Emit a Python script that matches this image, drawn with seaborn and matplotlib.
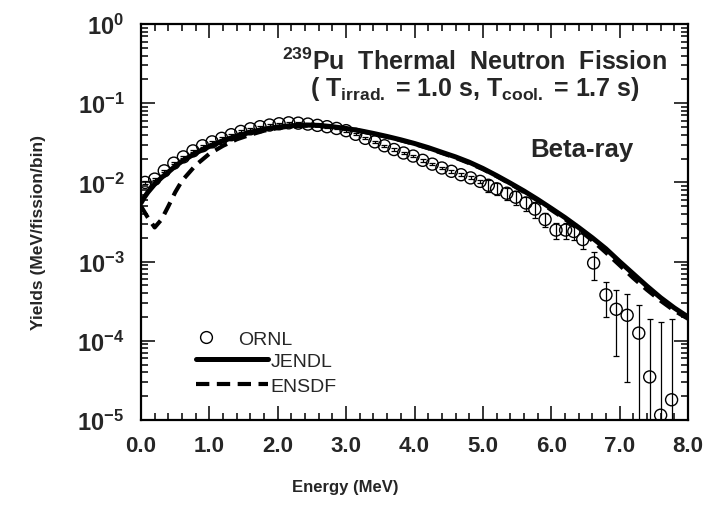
import matplotlib
matplotlib.use("Agg")
import matplotlib.pyplot as plt
import seaborn as sns
import pandas as pd
from matplotlib.ticker import FixedLocator, FixedFormatter, LogLocator, NullFormatter, MultipleLocator
from matplotlib.lines import Line2D

# ---------------- data ----------------
jendl_E = [0.00, 0.05, 0.10, 0.20, 0.30, 0.40, 0.50, 0.60, 0.80, 1.00, 1.20, 1.40, 1.60, 1.80,
           2.00, 2.20, 2.40, 2.60, 2.80, 3.00, 3.20, 3.40, 3.60, 3.80, 4.00, 4.20, 4.40, 4.60,
           4.80, 5.00, 5.20, 5.40, 5.60, 5.80, 6.00, 6.20, 6.40, 6.60, 6.80, 7.00, 7.20, 7.40,
           7.60, 7.80, 8.00]
jendl_Y = [5.5e-3, 6.5e-3, 7.5e-3, 9.5e-3, 1.15e-2, 1.35e-2, 1.6e-2, 1.85e-2, 2.35e-2, 2.85e-2,
           3.35e-2, 3.85e-2, 4.3e-2, 4.7e-2, 5.0e-2, 5.2e-2, 5.3e-2, 5.25e-2, 5.05e-2, 4.8e-2,
           4.5e-2, 4.15e-2, 3.8e-2, 3.45e-2, 3.1e-2, 2.75e-2, 2.4e-2, 2.1e-2, 1.8e-2, 1.5e-2,
           1.22e-2, 9.8e-3, 7.8e-3, 6.1e-3, 4.7e-3, 3.6e-3, 2.7e-3, 2.0e-3, 1.45e-3, 1.0e-3,
           7.0e-4, 4.9e-4, 3.5e-4, 2.6e-4, 2.0e-4]

ensdf_E = [0.00, 0.10, 0.20, 0.30, 0.40, 0.50, 0.60, 0.80, 1.00, 1.20, 1.40, 1.60, 1.80, 2.00,
           2.20, 2.40, 2.60, 2.80, 3.00, 3.20, 3.40, 3.60, 3.80, 4.00, 4.20, 4.40, 4.60, 4.80,
           5.00, 5.20, 5.40, 5.60, 5.80, 6.00, 6.20, 6.40, 6.60, 6.80, 7.00, 7.20, 7.40, 7.60,
           7.80, 8.00]
ensdf_Y = [5.0e-3, 3.6e-3, 2.7e-3, 3.4e-3, 5.0e-3, 7.5e-3, 1.05e-2, 1.65e-2, 2.3e-2, 2.9e-2,
           3.5e-2, 4.0e-2, 4.5e-2, 4.85e-2, 5.1e-2, 5.2e-2, 5.2e-2, 5.0e-2, 4.75e-2, 4.45e-2,
           4.1e-2, 3.75e-2, 3.4e-2, 3.05e-2, 2.7e-2, 2.35e-2, 2.05e-2, 1.75e-2, 1.47e-2, 1.2e-2,
           9.6e-3, 7.6e-3, 5.9e-3, 4.5e-3, 3.45e-3, 2.55e-3, 1.85e-3, 1.3e-3, 9.0e-4, 6.2e-4,
           4.4e-4, 3.2e-4, 2.4e-4, 1.9e-4]

ornl_E = [0.06, 0.20, 0.34, 0.48, 0.62, 0.76, 0.90, 1.04, 1.18, 1.32, 1.46, 1.60, 1.74, 1.88,
          2.02, 2.16, 2.30, 2.44, 2.58, 2.72, 2.86, 3.00, 3.14, 3.28, 3.42, 3.56, 3.70, 3.84,
          3.98, 4.12, 4.26, 4.40, 4.54, 4.68, 4.82, 4.96, 5.08, 5.20, 5.35, 5.48, 5.63, 5.76,
          5.91, 6.07, 6.21, 6.33, 6.46, 6.62, 6.80, 6.95, 7.11, 7.28, 7.44, 7.60, 7.76]
ornl_Y = [1.0e-2, 1.1e-2, 1.4e-2, 1.75e-2, 2.1e-2, 2.5e-2, 2.9e-2, 3.25e-2, 3.6e-2, 4.0e-2,
          4.4e-2, 4.75e-2, 5.05e-2, 5.3e-2, 5.5e-2, 5.65e-2, 5.6e-2, 5.45e-2, 5.25e-2, 5.05e-2,
          4.8e-2, 4.5e-2, 4.05e-2, 3.6e-2, 3.25e-2, 2.9e-2, 2.6e-2, 2.35e-2, 2.15e-2, 1.9e-2,
          1.7e-2, 1.52e-2, 1.38e-2, 1.25e-2, 1.14e-2, 1.03e-2, 9.2e-3, 8.3e-3, 7.3e-3, 6.5e-3,
          5.5e-3, 4.6e-3, 3.4e-3, 2.5e-3, 2.5e-3, 2.4e-3, 1.9e-3, 9.6e-4, 3.8e-4, 2.5e-4,
          2.1e-4, 1.25e-4, 3.5e-5, 1.15e-5, 1.8e-5]
ornl_err = [4e-4, 4e-4, 5e-4, 6e-4, 7e-4, 8e-4, 9e-4, 1.0e-3, 1.1e-3, 1.2e-3, 1.3e-3, 1.4e-3,
            1.5e-3, 1.6e-3, 1.6e-3, 1.7e-3, 1.7e-3, 1.6e-3, 1.6e-3, 1.5e-3, 1.4e-3, 1.4e-3,
            1.2e-3, 1.1e-3, 1.0e-3, 9e-4, 8e-4, 8e-4, 7e-4, 7e-4, 6e-4, 6e-4, 6e-4, 5e-4,
            5e-4, 5e-4, 1.6e-3, 1.4e-3, 1.3e-3, 1.3e-3, 1.1e-3, 1.0e-3, 7e-4, 5.5e-4, 5.5e-4,
            5.5e-4, 4.5e-4, 3.7e-4, 1.8e-4, 1.85e-4, 1.8e-4, 1.55e-4, 1.55e-4, 1.6e-4, 1.7e-4]

x_ticks = [0, 1, 2, 3, 4, 5, 6, 7, 8]
x_tick_labels = ["0.0", "1.0", "2.0", "3.0", "4.0", "5.0", "6.0", "7.0", "8.0"]
y_ticks = [1e-5, 1e-4, 1e-3, 1e-2, 1e-1, 1e0]
y_tick_labels = [r"$10^{-5}$", r"$10^{-4}$", r"$10^{-3}$", r"$10^{-2}$", r"$10^{-1}$", r"$10^{0}$"]

# ---------------- style ----------------
sns.set_style("ticks")
plt.rcParams["font.family"] = ["Liberation Sans", "DejaVu Sans"]
plt.rcParams["mathtext.fontset"] = "custom"
plt.rcParams["mathtext.rm"] = "Liberation Sans:bold"
plt.rcParams["mathtext.bf"] = "Liberation Sans:bold"
plt.rcParams["mathtext.it"] = "Liberation Sans:bold"
plt.rcParams["mathtext.default"] = "rm"

fig = plt.figure(figsize=(7.09, 5.06), dpi=100)
ax = fig.add_axes([141 / 709, 1 - 421 / 506, 547 / 709, 396 / 506])

df_j = pd.DataFrame({"E": jendl_E, "Y": jendl_Y})
df_e = pd.DataFrame({"E": ensdf_E, "Y": ensdf_Y})
df_o = pd.DataFrame({"E": ornl_E, "Y": ornl_Y, "err": ornl_err})

sns.lineplot(data=df_j, x="E", y="Y", ax=ax, color="black", linewidth=3.6, sort=False,
             estimator=None, zorder=3)
sns.lineplot(data=df_e, x="E", y="Y", ax=ax, color="black", linewidth=3.0, sort=False,
             estimator=None, linestyle=(0, (3.2, 1.8)), zorder=3)
ax.errorbar(df_o["E"], df_o["Y"], yerr=df_o["err"], fmt="none", ecolor="black",
            elinewidth=0.9, capsize=2.5, capthick=0.9, zorder=2)
sns.scatterplot(data=df_o, x="E", y="Y", ax=ax, marker="o", s=75, facecolor="none",
                edgecolor="black", linewidth=1.0, zorder=4)

ax.set_yscale("log")
ax.set_xlim(0, 8)
ax.set_ylim(1e-5, 1e0)

ax.xaxis.set_major_locator(FixedLocator(x_ticks))
ax.xaxis.set_major_formatter(FixedFormatter(x_tick_labels))
ax.xaxis.set_minor_locator(MultipleLocator(0.2))
ax.yaxis.set_major_locator(FixedLocator(y_ticks))
ax.yaxis.set_major_formatter(FixedFormatter(y_tick_labels))
ax.yaxis.set_minor_locator(LogLocator(base=10, subs=range(2, 10), numticks=20))
ax.yaxis.set_minor_formatter(NullFormatter())

ax.tick_params(which="both", direction="in", top=True, right=True, width=1.1, color="black")
ax.tick_params(which="major", length=10)
ax.tick_params(which="minor", length=5)
ax.tick_params(axis="x", which="major", labelsize=16, pad=11)
ax.tick_params(axis="y", which="major", labelsize=17, pad=12)
for lab in ax.get_xticklabels():
    lab.set_fontweight("bold")
for sp in ax.spines.values():
    sp.set_linewidth(1.6)
    sp.set_color("black")

ax.set_xlabel("Energy (MeV)", fontsize=12, fontweight="bold")
ax.set_ylabel("Yields (MeV/fission/bin)", fontsize=12.5, fontweight="bold")
ax.xaxis.set_label_coords((345 - 141) / 547, (421 - 480) / 396)
ax.yaxis.set_label_coords((46 - 141) / 547, (421 - 233) / 396)

ax.text(0.61, 0.907, r"$^{239}$Pu  Thermal  Neutron  Fission", transform=ax.transAxes,
        ha="center", va="center", fontsize=18, fontweight="bold")
ax.text(0.61, 0.838, r"( T$_{irrad.}$ = 1.0 s, T$_{cool.}$ = 1.7 s)", transform=ax.transAxes,
        ha="center", va="center", fontsize=18, fontweight="bold")
ax.text(0.806, 0.684, "Beta-ray", transform=ax.transAxes, ha="center", va="center",
        fontsize=18.5, fontweight="bold")

# legends
h_o = Line2D([], [], marker="o", linestyle="none", markerfacecolor="none",
             markeredgecolor="black", markersize=8.5, markeredgewidth=1.0)
h_j = Line2D([], [], color="black", linewidth=3.6)
h_e = Line2D([], [], color="black", linewidth=3.0, linestyle=(0, (3.2, 1.8)))
leg1 = ax.legend([h_o], ["ORNL"], loc="center left",
                 bbox_to_anchor=((190 - 141) / 547, (421 - 340) / 396), frameon=False,
                 fontsize=14, handlelength=1.6, handletextpad=0.9, borderpad=0, borderaxespad=0)
ax.add_artist(leg1)
ax.legend([h_j, h_e], ["JENDL", "ENSDF"], loc="upper left",
          bbox_to_anchor=((196 - 141) / 547, (421 - 353) / 396), frameon=False,
          fontsize=14, handlelength=3.7, handletextpad=0.15, labelspacing=0.4,
          borderpad=0, borderaxespad=0)

fig.savefig("out.png", dpi=100)
